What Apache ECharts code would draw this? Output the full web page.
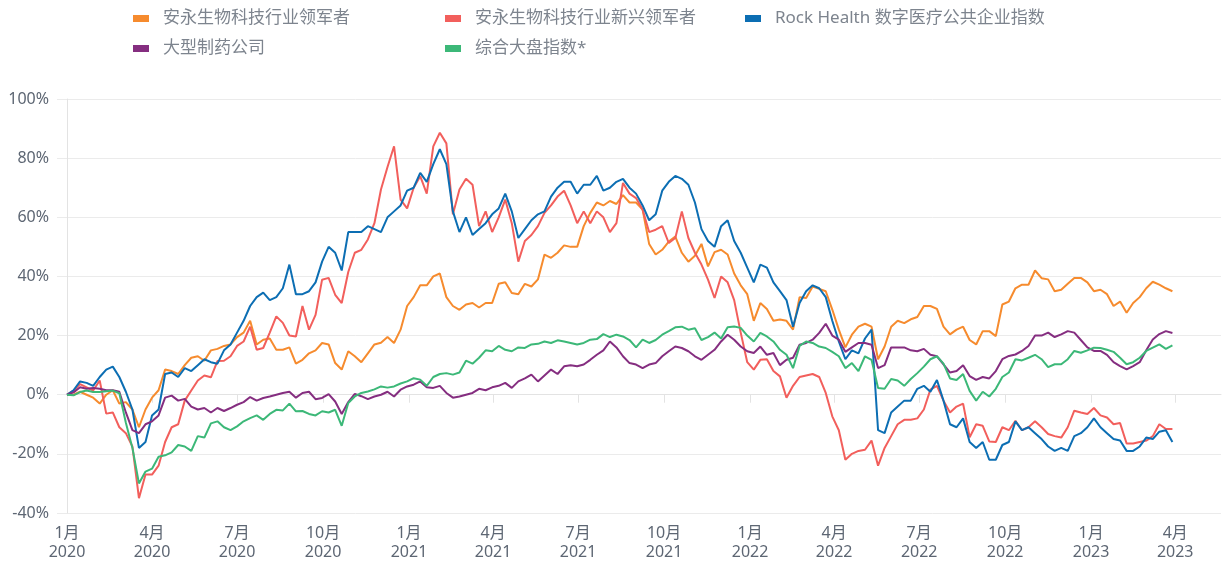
<!DOCTYPE html>
<html>
<head>
<meta charset="utf-8">
<script src="https://cdn.jsdelivr.net/npm/echarts/dist/echarts.min.js"></script>
<style>
  html, body { margin: 0; padding: 0; background: #fff; }
  #main { width: 1225px; height: 567px; }
</style>
</head>
<body>
<div id="main"></div>
<script>
// 系列名称
var names = ['安永生物科技行业领军者', '安永生物科技行业新兴领军者', 'Rock Health 数字医疗公共企业指数', '大型制药公司', '综合大盘指数*'];
var colors = ['#F68B2E', '#F25F5C', '#0C6EB3', '#852E80', '#3CB878'];

// weekly readings from 2020-01-01, % change
var leaders = [0,0,1,0,-1,-3,0,1.5,-3,-2.5,
  -5,-11,-5,-1,1.5,8.5,8,7,10,12.5,
  13,11.5,15,15.5,16.5,17,19.5,21,25,17,
  18.6,19,15.2,15.2,16,10.5,11.8,14,15,17.5,
  17,10.7,8.5,14.7,13,11,14,17,17.6,19.5,
  17.5,22,30,33,37,37,40,41,33,30,
  28.7,30.5,31,29.5,31,31,37.5,38,34.4,34,
  37.5,36.6,39,47.4,46.3,48,50.5,50,50,57,
  61.5,65,64,65.5,64.5,67.5,65,65,62.6,51,
  47.4,49,51.8,53.5,48,45,47,51,43.4,48.2,
  49,47.4,41,37,34,25,31,29,25,25.4,
  25,22,33,32.7,36.6,35.8,35,28.8,22,16,
  20.3,23,24,23,12,16.3,23,25,24.2,25.5,
  26.3,30,30,29,23,20.4,22,23,18.5,17,
  21.5,21.5,19.8,30.5,31.5,36,37.2,37.2,42,39.4,
  39,35,35.5,37.5,39.5,39.5,38,35,35.5,34,
  30,31.5,27.7,31,33,36,38.2,37.2,36,35];

var emerging = [0,1.4,3.6,2.5,1.4,4.8,-6.4,-6,-11,-13,
  -17.5,-35,-27,-27,-24,-16,-11,-10,-2,1.4,
  4.8,6.5,5.9,11.4,11.5,13,16.5,18,23,15.2,
  15.8,21,26.5,24.3,20,19.7,30,22,27,38.9,
  39.5,33.8,31,41.5,48,49,52.5,58,69.4,77,
  84,66,63,70,73.9,68,84,88.6,85,61,
  69.4,73,71,57,62,55,60,66,58,45,
  52,54,57,61.5,64,67,69,64,58,62,
  58,62,60,55,58,71.6,68,66.5,62.6,55,
  55.8,57,51.3,53,62,53,48,44,38.9,32.7,
  40,38,32,21,11,8.5,11.8,12,8,6.2,
  -1,3,6,6.5,7,6,0.6,-7.3,-12,-22,
  -20,-19,-18.6,-15.5,-24,-18,-14,-10,-8.5,-8.5,
  -8,-5,1.7,3,-2,-6,-4,-3,-14.4,-10,
  -10.5,-15.8,-16,-11,-12,-8.8,-12,-11,-9,-11,
  -13.3,-14,-14.5,-11,-5.4,-6,-6.5,-4.5,-7,-7.7,
  -10,-9.6,-16.5,-16.5,-16,-15.5,-14,-10,-11.6,-11.6];

var rockHealth = [0,1.5,4.5,4,3,6,8.5,9.5,6,1,
  -5,-18,-16,-7,-5,7,7.5,6,9,8,
  10,12,11,10.5,15,17,21,25,30,33,
  34.5,32,33,36,44,34,34,35,38,45,
  50,48,42,55,55,55,57,56,55,60,
  62,64,69,70,75,72,78,83,78,62,
  55,60,54,56,58,61,63,68,62,53,
  56,59,61,62,67,70,72,72,68,71,
  71,74,69,70,72,73,70,68,64,59,
  61,69,72,74,73,71,65,56,52,50,
  57,59,52,48,43,38,44,43,38,35,
  32,23,31,35,37,36,33,25,18,12,
  15,14,19,22,-12,-13,-6,-4,-2,-2,
  2,3,1,5,-2,-10,-11,-8,-16,-18,
  -16,-22,-22,-17,-16,-9,-12,-11,-13,-15,
  -17.5,-19,-18,-19,-14,-13,-11,-8,-11,-13,
  -15,-15.5,-19,-19,-17.5,-14.5,-15,-12.5,-12,-16];

var pharma = [0,0.8,2.5,2,2.3,2,1.5,1.5,1,-6,
  -12,-13,-10,-9,-7,-1,-0.3,-2,-1.4,-4,
  -5,-4.5,-6,-4.5,-5.5,-4.5,-3.4,-2.5,-0.8,-2,
  -1.1,-0.6,0,0.6,1,-1,0.6,1,-1.5,-1.1,
  0.2,-2.3,-6.5,-2.5,0.3,-0.5,-1.5,-0.6,0,1,
  -0.6,1.7,2.8,3.4,4.5,2.5,2.3,3,0.6,-1,
  -0.6,0,0.6,2,1.5,2.5,3,4,2.3,4.5,
  5.5,6.8,4.5,6.5,8.5,7,9.6,10,9.6,10.2,
  11.8,13.5,15,18,16,13,10.7,10.2,9,10.2,
  10.7,13,14.7,16.3,15.8,14.7,13,11.8,13.5,15.2,
  18,20.3,18.6,16.3,14.7,14.1,16.3,13.5,14.1,10,
  11.8,12.5,16.9,17.5,18.6,20.9,24,20,18.6,14.5,
  16,17.5,17.5,16.9,9,10,16,16,16,15,
  14.7,15.5,13.5,13,10.3,7.5,8,10,6.3,5,
  6,5.5,8,12,13.1,13.6,14.8,16.5,20,20,
  21,19.5,20.4,21.5,21,18.5,16,14.8,14.8,13.5,
  11,9.7,8.6,9.7,11,15,18.7,20.5,21.5,20.9];

var broadMarket = [0,-0.2,0.9,1.4,0.9,0.9,1.2,1.4,0.5,-9.5,
  -18,-30,-26,-25,-21,-20.5,-19.5,-17,-17.5,-19,
  -14,-14.5,-9.7,-9,-11,-12,-10.7,-9,-7.9,-7,
  -8.5,-6.5,-5.1,-5.3,-3,-5.6,-5.5,-6.5,-7,-5.6,
  -6,-5.1,-10.5,-2.8,-0.6,0.6,1.1,1.8,2.8,2.4,
  2.8,3.8,4.5,5.6,5.1,3,6,7,7.3,6.8,
  7.5,11.5,10.5,12.5,15,14.7,16.5,15.2,14.7,16,
  15.8,17,17.2,18,17.5,18.4,18,17.5,17,17.5,
  18.6,18.8,20.5,19.5,20.3,19.7,18.5,16,18.6,17.5,
  18.5,20.3,21.5,22.8,23,22,22.5,18.5,19.5,21,
  19,22.8,23.1,22.6,20,18,20.9,19.7,18,15.2,
  13.5,9,16.5,18,17.5,16.3,15.8,14.5,13,9,
  10.7,8,13,11.8,2.3,2,5.3,4.8,3,5.3,
  7.3,9.5,12,13,10.5,5.5,5,7,1.3,-2,
  1,-0.6,2,6,7.5,12,11.6,12.5,13.5,12,
  9.3,10.3,10.3,12,14.8,14.2,15,15.9,15.8,15.2,
  14.5,12.5,10.3,11,12.5,14.8,15.9,17,15.5,16.7];

// 季度刻度
var quarterTicks = ['2020-01','2020-04','2020-07','2020-10','2021-01','2021-04','2021-07',
  '2021-10','2022-01','2022-04','2022-07','2022-10','2023-01','2023-04'];
var xEnd = '2023-05-20';

var yTicks = { min: -40, max: 100, interval: 20 };

// x = days since 2020-01-01
var DAY = 86400000;
var t0 = Date.UTC(2020, 0, 1);

function toDay(s) {
  var p = s.split('-');
  return Math.round((Date.UTC(+p[0], +p[1] - 1, p[2] ? +p[2] : 1) - t0) / DAY);
}

function pairs(vals) {
  return vals.map(function (v, i) { return [7 * i, v]; });
}

var tickDays = quarterTicks.map(toDay);
var allData = [leaders, emerging, rockHealth, pharma, broadMarket];

var fontFamily = '"Noto Sans", "Noto Sans CJK SC", sans-serif';
var labelColor = '#5d6673';

// 图例 每项单独定位
var legendPos = [
  { left: 133, top: 10 },
  { left: 445, top: 10 },
  { left: 745, top: 10 },
  { left: 133, top: 40 },
  { left: 445, top: 40 }
];

var legends = names.map(function (n, i) {
  return {
    data: [n],
    left: legendPos[i].left,
    top: legendPos[i].top,
    padding: 0,
    icon: 'rect',
    itemWidth: 16,
    itemHeight: 7,
    selectedMode: false,
    textStyle: {
      fontSize: 17,
      color: '#7d848e',
      fontFamily: fontFamily,
      padding: [0, 0, 0, 9]
    }
  };
});

var series = names.map(function (n, i) {
  return {
    name: n,
    type: 'line',
    showSymbol: false,
    symbol: 'none',
    color: colors[i],
    lineStyle: { width: 2, color: colors[i] },
    data: pairs(allData[i])
  };
});

var option = {
  animation: false,
  backgroundColor: '#fff',
  legend: legends,
  grid: {
    left: 67,
    right: 4,
    top: 99,
    bottom: 54
  },
  xAxis: {
    type: 'value',
    min: 0,
    max: toDay(xEnd),
    axisLine: { show: true, lineStyle: { color: '#e3e3e3' } },
    axisTick: {
      show: true,
      customValues: tickDays,
      length: 8,
      lineStyle: { color: '#e3e3e3' }
    },
    axisLabel: {
      customValues: tickDays,
      color: labelColor,
      fontSize: 16,
      lineHeight: 19,
      margin: 11,
      fontFamily: fontFamily,
      formatter: function (value) {
        var d = new Date(t0 + value * DAY);
        return (d.getUTCMonth() + 1) + '月\n' + d.getUTCFullYear();
      }
    },
    splitLine: { show: false }
  },
  yAxis: {
    type: 'value',
    min: yTicks.min,
    max: yTicks.max,
    interval: yTicks.interval,
    axisLine: { show: true, lineStyle: { color: '#e3e3e3' } },
    axisTick: { show: true, length: 10, lineStyle: { color: '#ebebeb' } },
    axisLabel: {
      color: labelColor,
      fontSize: 16,
      margin: 18,
      fontFamily: fontFamily,
      formatter: '{value}%'
    },
    splitLine: { lineStyle: { color: '#ebebeb', width: 1 } }
  },
  series: series
};

var chart = echarts.init(document.getElementById('main'));
chart.setOption(option);
</script>
</body>
</html>
